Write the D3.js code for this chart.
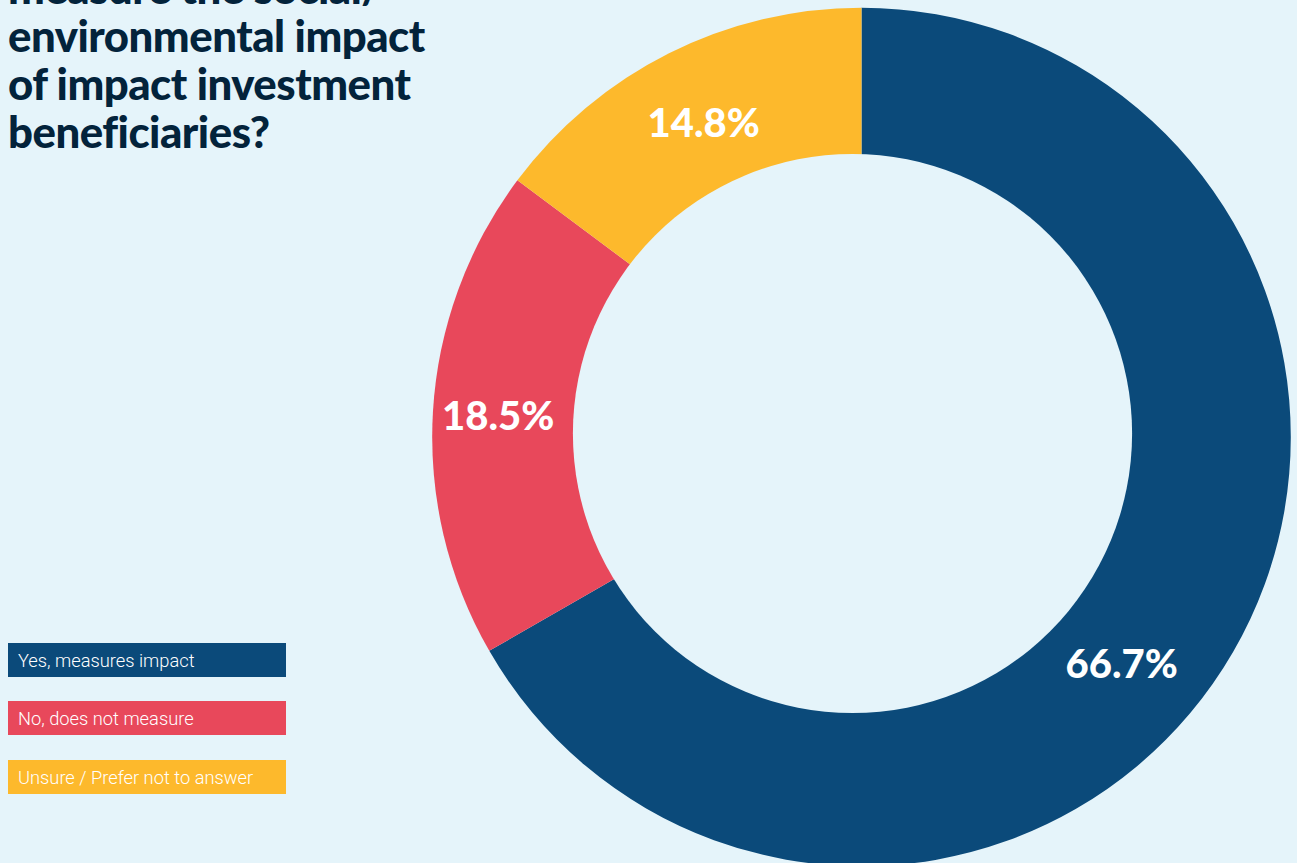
<!DOCTYPE html>
<html><head><meta charset="utf-8">
<script src="https://cdn.jsdelivr.net/npm/d3@7"></script>
<style>
html,body{margin:0;padding:0;background:#e5f4fa;}
svg{display:block;}
</style></head>
<body>
<svg id="chart" width="1297" height="863"></svg>
<script>
const categories = ["Yes, measures impact", "No, does not measure", "Unsure / Prefer not to answer"];
const values = [66.7, 18.5, 14.8];
const colors = ["#0b4a7a", "#e8485b", "#fdb92c"];
const titleLines = ["measure the social/", "environmental impact", "of impact investment", "beneficiaries?"];
// label placement tweaks (degrees of rotation from slice middle, radial distance)
const labelAngleShift = [11, 0, 0];
const labelRadius = [345, 364, 352];

const W = 1297, H = 863, bg = "#e5f4fa";
const svg = d3.select("#chart");
svg.append("rect").attr("width",W).attr("height",H).attr("fill",bg);

const cx = 861.5, cy = 437, rOuter = 429.3;
const hole = {dx: -9, dy: -3.5, r: 279.6};

const pie = d3.pie().sort(null).value(d => d)(values);
const arc = d3.arc().innerRadius(0).outerRadius(rOuter);

const g = svg.append("g").attr("transform", `translate(${cx},${cy})`);
g.selectAll("path").data(pie).join("path")
  .attr("d", arc).attr("fill", (d,i) => colors[i]);
g.append("circle").attr("cx", hole.dx).attr("cy", hole.dy).attr("r", hole.r).attr("fill", bg);

g.selectAll("text.lbl").data(pie).join("text").attr("class","lbl")
  .attr("transform", (d,i) => {
    const a = (d.startAngle + d.endAngle)/2 + labelAngleShift[i]*Math.PI/180;
    const r = labelRadius[i];
    return `translate(${r*Math.sin(a)},${-r*Math.cos(a)})`;
  })
  .attr("text-anchor","middle").attr("dy","0.36em")
  .attr("fill","#fff").style("font-family","Lato").style("font-weight",900).style("font-size","40px")
  .text(d => d.data.toFixed(1) + "%");

const title = svg.append("g");
titleLines.forEach((t,i) => {
  title.append("text").attr("x",8).attr("y",4 + i*48)
    .attr("fill","#03233b").style("font-family","Lato").style("font-weight",900).style("font-size","44px")
    .style("letter-spacing","-0.5px")
    .text(t);
});
const tnodes = title.selectAll("text").nodes();
const maxW = d3.max(tnodes, n => n.getComputedTextLength());
const fs = 44 * 417 / maxW;
title.selectAll("text").style("font-size", fs + "px");

const legend = svg.append("g");
categories.forEach((c,i) => {
  const y = [643, 701, 760][i];
  legend.append("rect").attr("x",8).attr("y",y).attr("width",278).attr("height",34).attr("fill",colors[i]);
  legend.append("text").attr("x",18).attr("y",y+24).attr("fill","#fff")
    .style("font-family","Roboto").style("font-weight",300).style("font-size","18.3px").text(c);
});
</script>
</body></html>
